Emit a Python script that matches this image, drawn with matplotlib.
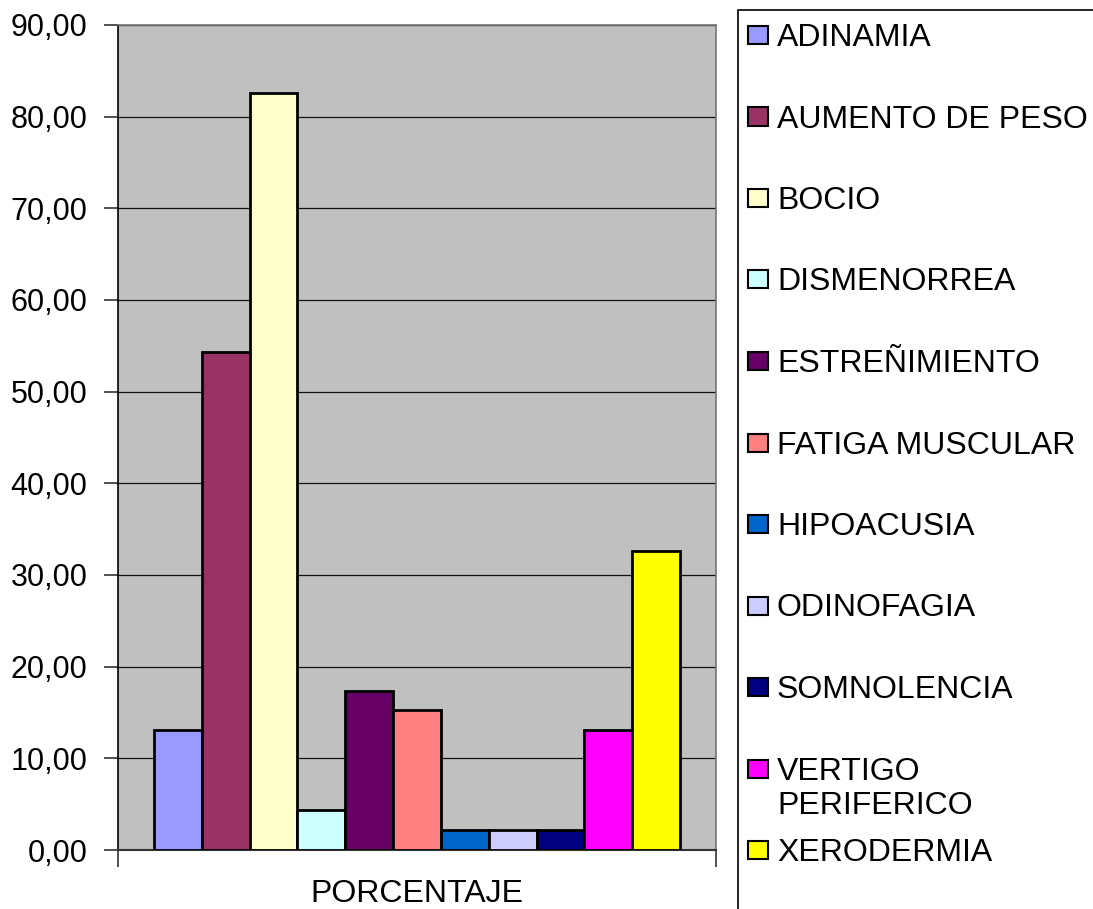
import matplotlib
matplotlib.use("Agg")
import matplotlib.pyplot as plt
from matplotlib.patches import Rectangle
from matplotlib.ticker import FuncFormatter, MultipleLocator

plt.rcParams['font.family'] = ['Liberation Sans', 'DejaVu Sans']

sintomas = ['ADINAMIA', 'AUMENTO DE PESO', 'BOCIO', 'DISMENORREA', 'ESTREÑIMIENTO',
            'FATIGA MUSCULAR', 'HIPOACUSIA', 'ODINOFAGIA', 'SOMNOLENCIA',
            'VERTIGO\nPERIFERICO', 'XERODERMIA']
porcentaje = [13.04, 54.35, 82.61, 4.35, 17.39, 15.22, 2.17, 2.17, 2.17, 13.04, 32.61]
colores = ['#9999FF', '#993366', '#FFFFCC', '#CCFFFF', '#660066', '#FF8080',
           '#0066CC', '#CCCCFF', '#000080', '#FF00FF', '#FFFF00']
categoria = 'PORCENTAJE'

W, H = 1093, 909
FS = 22
FS_LEG = 23
fig = plt.figure(figsize=(W / 100, H / 100), dpi=100)
ax = fig.add_axes([118 / W, 1 - 850 / H, (716 - 118) / W, (850 - 25) / H])
ax.set_facecolor('#C0C0C0')

n = len(porcentaje)
ancho = 0.88 / n
for i, (v, c) in enumerate(zip(porcentaje, colores)):
    x = -0.44 + ancho * (i + 0.5)
    ax.bar(x, v, width=ancho, color=c, edgecolor='black', linewidth=2.0, zorder=3)

ax.set_xlim(-0.5, 0.5)
ax.set_ylim(0, 90)
ax.yaxis.set_major_locator(MultipleLocator(10))
ax.yaxis.set_major_formatter(FuncFormatter(lambda v, p: f'{v:.2f}'.replace('.', ',')))
ax.grid(axis='y', color='#111111', linewidth=0.9, zorder=1)
ax.set_axisbelow(True)

ax.set_xticks([0])
ax.set_xticklabels([categoria])
ax.set_xticks([-0.5, 0.5], minor=True)
ax.tick_params(axis='x', which='major', length=0, pad=21, labelsize=FS_LEG)
ax.tick_params(axis='x', which='minor', length=12, width=1.2, color='#333333')
ax.tick_params(axis='y', length=10, width=1.2, color='#333333', pad=12, labelsize=FS)

for s in ['top', 'right']:
    ax.spines[s].set_color('#777777')
    ax.spines[s].set_linewidth(1.2)
ax.spines['left'].set_color('black')
ax.spines['left'].set_linewidth(1.2)
ax.spines['bottom'].set_color('#333333')
ax.spines['bottom'].set_linewidth(1.5)

# legend frame and entries, laid out in pixel units of the figure
def fx(px):
    return px / W

def fy(py):
    return 1 - py / H

fig.patches.append(Rectangle((fx(738), fy(930)), fx(400), (930 - 10) / H,
                             transform=fig.transFigure, facecolor='white',
                             edgecolor='black', linewidth=1.2, zorder=0))
paso = 81.5
interlinea = 35
for i, (lab, c) in enumerate(zip(sintomas, colores)):
    top = 25 + i * paso
    fig.patches.append(Rectangle((fx(748), fy(top + 19)), fx(20), 18 / H,
                                 transform=fig.transFigure, facecolor=c,
                                 edgecolor='black', linewidth=1.5, zorder=2))
    for k, linea in enumerate(lab.split('\n')):
        fig.text(fx(777), fy(top + 21 + k * interlinea), linea, fontsize=FS_LEG,
                 va='baseline', ha='left')

fig.savefig('out.png', dpi=100)
